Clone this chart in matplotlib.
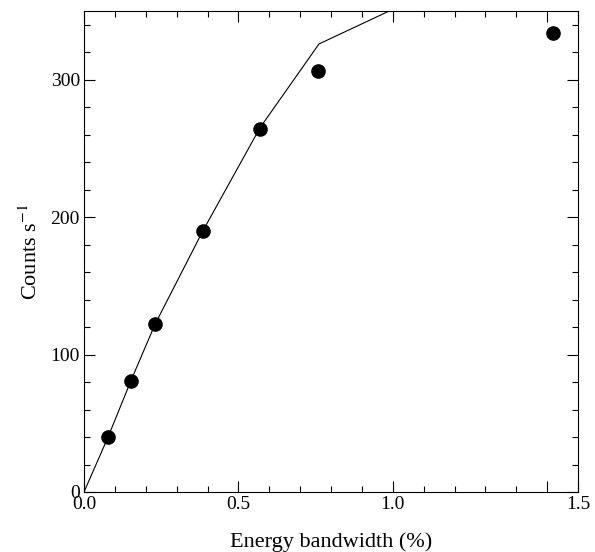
import matplotlib
matplotlib.use('Agg')
import matplotlib.pyplot as plt
from matplotlib.ticker import MultipleLocator

# measured count rates vs energy bandwidth
bandwidth = [0.078, 0.152, 0.230, 0.385, 0.570, 0.759, 1.52]
counts = [40, 81, 122, 190, 264, 306, 334]

# model curve
model_x = [0.0, 0.078, 0.152, 0.230, 0.385, 0.570, 0.761, 1.52]
model_y = [0, 40, 81, 122, 190, 265, 326, 406]

plt.rcParams['font.family'] = ['Liberation Serif', 'DejaVu Serif']
plt.rcParams['mathtext.fontset'] = 'stix'

fig = plt.figure(figsize=(5.95, 5.52), dpi=100)
ax = fig.add_axes([84 / 595, 1 - 492 / 552, 494 / 595, 481 / 552])

ax.plot(model_x, model_y, color='black', linewidth=0.8)
ax.plot(bandwidth, counts, 'o', color='black', markersize=9.5, clip_on=False)

ax.set_xlim(0, 1.6)
ax.set_ylim(0, 350)

ax.set_xticks([0, 0.5, 1.0, 1.5, 1.6])
ax.set_xticklabels(['0.0', '0.5', '1.0', '', '1.5'])
ax.xaxis.set_minor_locator(MultipleLocator(0.1))
ax.set_yticks([0, 100, 200, 300])
ax.yaxis.set_minor_locator(MultipleLocator(20))

ax.tick_params(which='both', direction='in', top=True, right=True, labelsize=14, width=0.8)
ax.tick_params(which='major', length=8, pad=3)
ax.tick_params(which='minor', length=4)
for s in ax.spines.values():
    s.set_linewidth(0.8)

ax.set_xlabel('Energy bandwidth (%)', fontsize=16, labelpad=14)
ax.set_ylabel('Counts s$^{-1}$', fontsize=16, labelpad=6)

fig.savefig('out.png', dpi=100)
